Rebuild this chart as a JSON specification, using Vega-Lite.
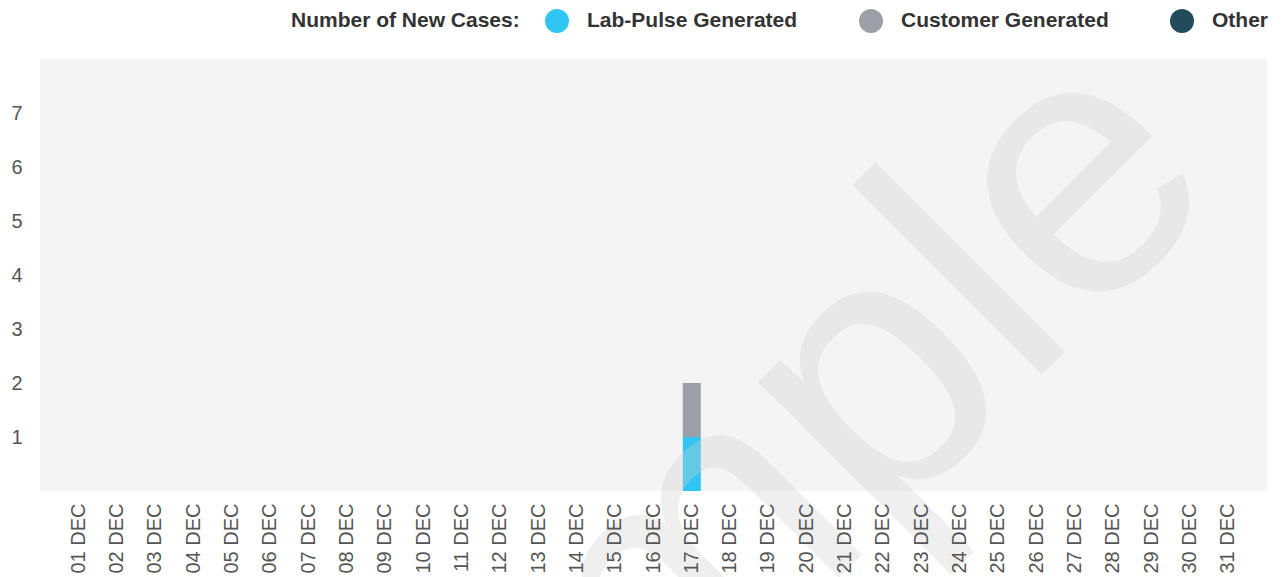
{
  "$schema": "https://vega.github.io/schema/vega-lite/v6.json",
  "width": 1227,
  "height": 432,
  "autosize": {"type": "none"},
  "padding": {"left": 40, "top": 59, "right": 15, "bottom": 86},
  "background": "white",
  "config": {
    "view": {"fill": "#f4f4f4", "stroke": null},
    "font": "Liberation Sans"
  },
  "layer": [
    {
      "data": {
        "values": [
          {"day": "01 DEC", "Lab-Pulse Generated": 0, "Customer Generated": 0, "Other": 0},
          {"day": "02 DEC", "Lab-Pulse Generated": 0, "Customer Generated": 0, "Other": 0},
          {"day": "03 DEC", "Lab-Pulse Generated": 0, "Customer Generated": 0, "Other": 0},
          {"day": "04 DEC", "Lab-Pulse Generated": 0, "Customer Generated": 0, "Other": 0},
          {"day": "05 DEC", "Lab-Pulse Generated": 0, "Customer Generated": 0, "Other": 0},
          {"day": "06 DEC", "Lab-Pulse Generated": 0, "Customer Generated": 0, "Other": 0},
          {"day": "07 DEC", "Lab-Pulse Generated": 0, "Customer Generated": 0, "Other": 0},
          {"day": "08 DEC", "Lab-Pulse Generated": 0, "Customer Generated": 0, "Other": 0},
          {"day": "09 DEC", "Lab-Pulse Generated": 0, "Customer Generated": 0, "Other": 0},
          {"day": "10 DEC", "Lab-Pulse Generated": 0, "Customer Generated": 0, "Other": 0},
          {"day": "11 DEC", "Lab-Pulse Generated": 0, "Customer Generated": 0, "Other": 0},
          {"day": "12 DEC", "Lab-Pulse Generated": 0, "Customer Generated": 0, "Other": 0},
          {"day": "13 DEC", "Lab-Pulse Generated": 0, "Customer Generated": 0, "Other": 0},
          {"day": "14 DEC", "Lab-Pulse Generated": 0, "Customer Generated": 0, "Other": 0},
          {"day": "15 DEC", "Lab-Pulse Generated": 0, "Customer Generated": 0, "Other": 0},
          {"day": "16 DEC", "Lab-Pulse Generated": 0, "Customer Generated": 0, "Other": 0},
          {"day": "17 DEC", "Lab-Pulse Generated": 1, "Customer Generated": 1, "Other": 0},
          {"day": "18 DEC", "Lab-Pulse Generated": 0, "Customer Generated": 0, "Other": 0},
          {"day": "19 DEC", "Lab-Pulse Generated": 0, "Customer Generated": 0, "Other": 0},
          {"day": "20 DEC", "Lab-Pulse Generated": 0, "Customer Generated": 0, "Other": 0},
          {"day": "21 DEC", "Lab-Pulse Generated": 0, "Customer Generated": 0, "Other": 0},
          {"day": "22 DEC", "Lab-Pulse Generated": 0, "Customer Generated": 0, "Other": 0},
          {"day": "23 DEC", "Lab-Pulse Generated": 0, "Customer Generated": 0, "Other": 0},
          {"day": "24 DEC", "Lab-Pulse Generated": 0, "Customer Generated": 0, "Other": 0},
          {"day": "25 DEC", "Lab-Pulse Generated": 0, "Customer Generated": 0, "Other": 0},
          {"day": "26 DEC", "Lab-Pulse Generated": 0, "Customer Generated": 0, "Other": 0},
          {"day": "27 DEC", "Lab-Pulse Generated": 0, "Customer Generated": 0, "Other": 0},
          {"day": "28 DEC", "Lab-Pulse Generated": 0, "Customer Generated": 0, "Other": 0},
          {"day": "29 DEC", "Lab-Pulse Generated": 0, "Customer Generated": 0, "Other": 0},
          {"day": "30 DEC", "Lab-Pulse Generated": 0, "Customer Generated": 0, "Other": 0},
          {"day": "31 DEC", "Lab-Pulse Generated": 0, "Customer Generated": 0, "Other": 0}
        ]
      },
      "transform": [
        {"fold": ["Lab-Pulse Generated", "Customer Generated", "Other"], "as": ["series", "cases"]}
      ],
      "mark": {"type": "bar"},
      "encoding": {
        "x": {
          "field": "day",
          "type": "nominal",
          "sort": null,
          "scale": {"paddingInner": 0.53, "paddingOuter": 0.78},
          "axis": {
            "title": null,
            "labelAngle": 270,
            "labelAlign": "right",
            "labelBaseline": "middle",
            "labelFontSize": 20,
            "labelColor": "#555555",
            "labelPadding": 12,
            "ticks": false,
            "domain": false,
            "grid": false,
            "zindex": 1
          }
        },
        "y": {
          "field": "cases",
          "type": "quantitative",
          "stack": "zero",
          "scale": {"domain": [0, 8], "nice": false},
          "axis": {
            "title": null,
            "values": [1, 2, 3, 4, 5, 6, 7],
            "grid": false,
            "ticks": false,
            "domain": false,
            "labelFontSize": 20,
            "labelColor": "#555555",
            "labelPadding": 18
          }
        },
        "color": {
          "field": "series",
          "type": "nominal",
          "scale": {
            "domain": ["Lab-Pulse Generated", "Customer Generated", "Other"],
            "range": ["#30c5f2", "#9ca0a6", "#234c5a"]
          },
          "legend": {
            "orient": "none",
            "legendX": 251,
            "legendY": -50,
            "direction": "horizontal",
            "title": "Number of New Cases:",
            "titleOrient": "left",
            "titleFontSize": 21,
            "titleFontWeight": "bold",
            "titleColor": "#333333",
            "titlePadding": 25,
            "titleBaseline": "middle",
            "titleLimit": 0,
            "labelLimit": 0,
            "labelFontSize": 21,
            "labelFontWeight": "bold",
            "labelColor": "#333333",
            "labelOffset": 18,
            "symbolType": "circle",
            "symbolSize": 576,
            "symbolStrokeWidth": 0,
            "symbolOpacity": 1,
            "columnPadding": 61
          }
        },
        "order": {"field": "series", "sort": "descending"}
      }
    },
    {
      "data": {"values": [{"watermark": "Sample"}]},
      "mark": {
        "type": "text",
        "fontSize": 370,
        "angle": -45,
        "align": "right",
        "baseline": "alphabetic",
        "fill": "#d0d0d0",
        "opacity": 0.33,
        "font": "Liberation Sans"
      },
      "encoding": {
        "text": {"field": "watermark"},
        "x": {"datum": "31 DEC", "type": "nominal"},
        "y": {"datum": 5.6, "type": "quantitative"}
      }
    }
  ]
}
